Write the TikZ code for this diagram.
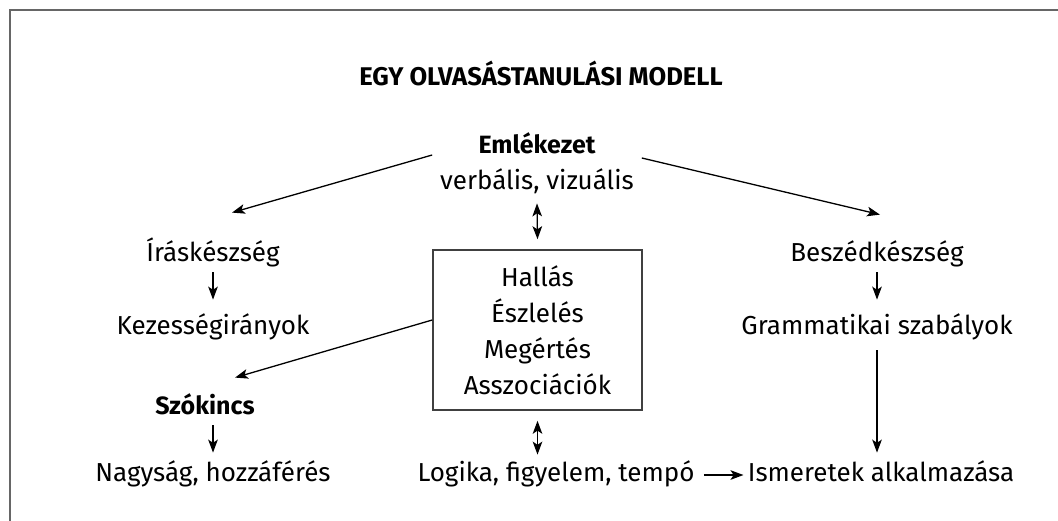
\documentclass[tikz,border=0pt]{standalone}
\usepackage{fontspec}
\setmainfont{Fira Sans}
\usetikzlibrary{arrows.meta}

\begin{document}
\begin{tikzpicture}[x=0.5pt,y=-0.5pt,>={Stealth[length=6.5pt,width=4.8pt,inset=1.6pt]},
	txt/.style={inner sep=0pt,text height=9pt,text depth=3pt,font=\fontsize{13}{15}\selectfont},
	kiemelt/.style={txt,font=\fontsize{12.5}{14}\selectfont\bfseries},
	doboz/.style={draw=black!75,line width=0.8pt,minimum width=104.5pt,minimum height=80pt,
		align=center,inner sep=0pt,font=\fontsize{13}{18}\selectfont},
	nyil/.style={->,line width=0.65pt}]
	\useasboundingbox (0,0) rectangle (1058,520);
	\clip (0,0) rectangle (1058,520);
	% keret (csak a bal es felso el latszik)
	\draw[black!60,line width=1pt] (9.5,9.5) rectangle (1100,600);
	\node[font=\fontsize{12.8}{14}\selectfont\bfseries] (cim) at (541,73) {EGY OLVASÁSTANULÁSI MODELL};
	% felso sor
	\node[kiemelt] (emlek) at (537,147) {Emlékezet};
	\node[txt] (verb) at (537,183) {verbális, vizuális};
	% bal oszlop
	\node[txt] (iras) at (213,255) {Íráskészség};
	\node[txt] (kez) at (213,328) {Kezességirányok};
	\node[kiemelt] (szo) at (205,408) {Szókincs};
	\node[txt] (nagy) at (213,475) {Nagyság, hozzáférés};
	% kozep
	\node[doboz] (kozep) at (537.5,330) {Hallás\\Észlelés\\Megértés\\Asszociációk};
	\node[txt] (log) at (556,475) {Logika, figyelem, tempó};
	% jobb oszlop
	\node[txt] (besz) at (877,255) {Beszédkészség};
	\node[txt] (gram) at (877,328) {Grammatikai szabályok};
	\node[txt] (ism) at (881,475) {Ismeretek alkalmazása};
	% nyilak
	\draw[nyil] ([xshift=-23pt,yshift=-4pt]emlek.west) -- ([xshift=9.5pt,yshift=15pt]iras.north);
	\draw[nyil] ([xshift=23pt,yshift=-5.5pt]emlek.east) -- ([xshift=1.5pt,yshift=14pt]besz.north);
	\draw[nyil,<->] ([yshift=-4pt]verb.south) -- ([yshift=5pt]kozep.north);
	\draw[nyil,shorten <=2.5pt,shorten >=8pt] (iras.south) -- (kez.north);
	\draw[nyil] ([yshift=5pt]kozep.west) -- ([xshift=-10pt,yshift=9pt]szo.north east);
	\draw[nyil,shorten <=2.5pt,shorten >=5pt] (nagy.north |- szo.south) -- (nagy.north);
	\draw[nyil,<->,shorten <=5pt,shorten >=4pt] (kozep.south) -- (kozep.south |- log.north);
	\draw[nyil,shorten <=4.5pt,shorten >=2pt] (log.east) -- (ism.west);
	\draw[nyil,shorten <=2.5pt,shorten >=8pt] (besz.south) -- (kez.north -| besz.south);
	\draw[nyil,shorten <=5pt,shorten >=5pt] (gram.south) -- (gram.south |- ism.north);
\end{tikzpicture}
\end{document}
